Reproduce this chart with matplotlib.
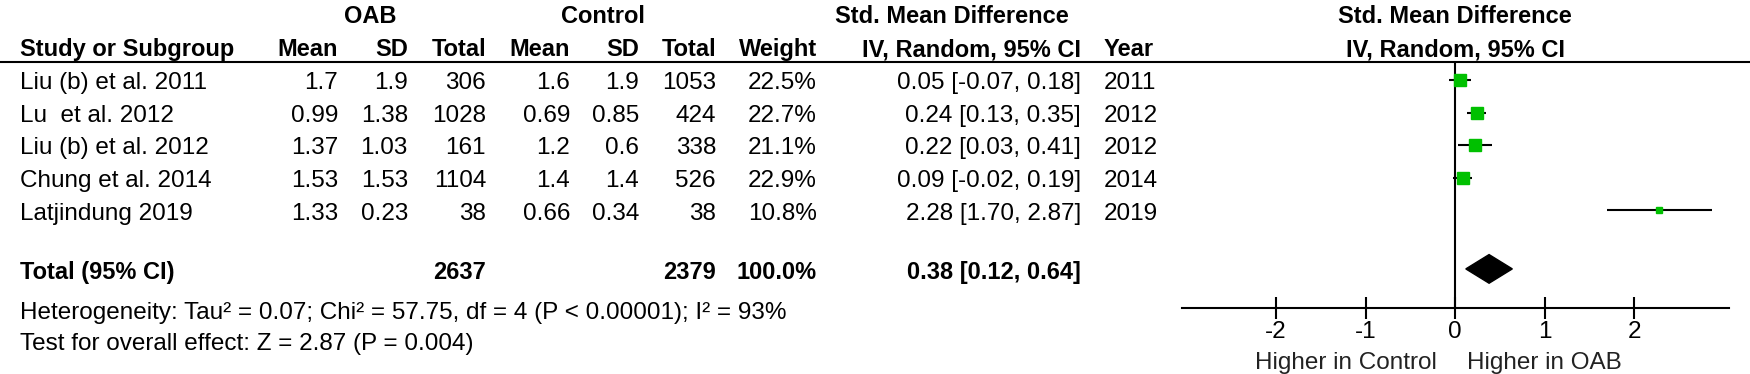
import matplotlib
matplotlib.use('Agg')
import matplotlib.pyplot as plt
from matplotlib.patches import Polygon

plt.rcParams['font.family'] = ['Liberation Sans', 'DejaVu Sans']

studies = ['Liu (b) et al. 2011', 'Lu  et al. 2012', 'Liu (b) et al. 2012',
           'Chung et al. 2014', 'Latjindung 2019']
oab_mean = ['1.7', '0.99', '1.37', '1.53', '1.33']
oab_sd = ['1.9', '1.38', '1.03', '1.53', '0.23']
oab_n = [306, 1028, 161, 1104, 38]
ctl_mean = ['1.6', '0.69', '1.2', '1.4', '0.66']
ctl_sd = ['1.9', '0.85', '0.6', '1.4', '0.34']
ctl_n = [1053, 424, 338, 526, 38]
weight = [22.5, 22.7, 21.1, 22.9, 10.8]
smd = [0.05, 0.24, 0.22, 0.09, 2.28]
ci_lo = [-0.07, 0.13, 0.03, -0.02, 1.70]
ci_hi = [0.18, 0.35, 0.41, 0.19, 2.87]
year = [2011, 2012, 2012, 2014, 2019]

total_oab = 2637
total_ctl = 2379
total_smd = 0.38
total_lo = 0.12
total_hi = 0.64
het_text = 'Heterogeneity: Tau² = 0.07; Chi² = 57.75, df = 4 (P < 0.00001); I² = 93%'
effect_text = 'Test for overall effect: Z = 2.87 (P = 0.004)'
ticks = [-2, -1, 0, 1, 2]

W, H = 1750, 374
FS = 17.5
FSB = 17
LW = 1.5

fig = plt.figure(figsize=(W / 100, H / 100), dpi=100)

# table axes, x in pixels, y in row units
ax_t = fig.add_axes([0, 0, 1, 1])
ax_t.set_xlim(0, W)
ax_t.set_ylim(9.026, -2.453)
ax_t.axis('off')

col_right = {'om': 338, 'osd': 408, 'on': 486, 'cm': 570, 'csd': 639,
             'cn': 716, 'w': 817, 'ci': 1081}
x_study = 20
x_year = 1104
dy = 0.1  # text sits a bit lower than the marks


def txt(x, y, s, ha='right', bold=False):
    ax_t.text(x, y + dy, s, ha=ha, va='center',
              fontsize=FSB if bold else FS,
              fontweight='bold' if bold else 'normal', color='black')


# headers
hy1, hy2 = -2.05, -1.02
txt(370, hy1, 'OAB', ha='center', bold=True)
txt(603, hy1, 'Control', ha='center', bold=True)
txt(952, hy1, 'Std. Mean Difference', ha='center', bold=True)
txt(x_study, hy2, 'Study or Subgroup', ha='left', bold=True)
txt(col_right['om'], hy2, 'Mean', bold=True)
txt(col_right['osd'], hy2, 'SD', bold=True)
txt(col_right['on'], hy2, 'Total', bold=True)
txt(col_right['cm'], hy2, 'Mean', bold=True)
txt(col_right['csd'], hy2, 'SD', bold=True)
txt(col_right['cn'], hy2, 'Total', bold=True)
txt(col_right['w'], hy2, 'Weight', bold=True)
txt(col_right['ci'], hy2, 'IV, Random, 95% CI', bold=True)
txt(x_year, hy2, 'Year', ha='left', bold=True)
ax_t.plot([0, W], [-0.55, -0.55], color='black', lw=LW, solid_capstyle='butt')

# study rows
for i in range(len(studies)):
    txt(x_study, i, studies[i], ha='left')
    txt(col_right['om'], i, oab_mean[i])
    txt(col_right['osd'], i, oab_sd[i])
    txt(col_right['on'], i, str(oab_n[i]))
    txt(col_right['cm'], i, ctl_mean[i])
    txt(col_right['csd'], i, ctl_sd[i])
    txt(col_right['cn'], i, str(ctl_n[i]))
    txt(col_right['w'], i, f'{weight[i]:.1f}%')
    txt(col_right['ci'], i, f'{smd[i]:.2f} [{ci_lo[i]:.2f}, {ci_hi[i]:.2f}]')
    txt(x_year, i, str(year[i]), ha='left')

# total row
ty = 5.8
txt(x_study, ty, 'Total (95% CI)', ha='left', bold=True)
txt(col_right['on'], ty, str(total_oab), bold=True)
txt(col_right['cn'], ty, str(total_ctl), bold=True)
txt(col_right['w'], ty, f'{sum(weight):.1f}%', bold=True)
txt(col_right['ci'], ty, f'{total_smd:.2f} [{total_lo:.2f}, {total_hi:.2f}]', bold=True)
txt(x_study, 7.05, het_text, ha='left')
txt(x_study, 8.0, effect_text, ha='left')

txt(1455, hy1, 'Std. Mean Difference', ha='center', bold=True)
txt(1455, hy2, 'IV, Random, 95% CI', ha='center', bold=True)

# forest plot axes
x0, x1 = 1182, 1729
y_top, y_bot = 62, 308
ax_f = fig.add_axes([x0 / W, 1 - y_bot / H, (x1 - x0) / W, (y_bot - y_top) / H])
ax_f.set_xlim(-3.05, 3.06)
ax_f.set_ylim(7.0, -0.55)
ax_f.patch.set_alpha(0)
for s in ['top', 'left', 'right']:
    ax_f.spines[s].set_visible(False)
ax_f.spines['bottom'].set_linewidth(LW)
ax_f.set_yticks([])
ax_f.set_xticks(ticks)
ax_f.set_xticklabels([str(t) for t in ticks])
ax_f.tick_params(axis='x', direction='inout', length=16, width=LW,
                 labelsize=FS, pad=1)
ax_f.axvline(0, color='black', lw=LW)

for i in range(len(studies)):
    ax_f.plot([ci_lo[i], ci_hi[i]], [i, i], color='black', lw=LW,
              solid_capstyle='butt', zorder=2)
    side = 12 * (weight[i] / 22.7) ** 0.8
    ax_f.plot(smd[i], i, marker='s', ms=side * 0.75, color='#00c000',
              mec='#00c000', ls='none', zorder=3)

dh = 0.44
diamond = Polygon([(total_lo, ty), (total_smd, ty - dh), (total_hi, ty),
                   (total_smd, ty + dh)], closed=True, color='black', zorder=3)
ax_f.add_patch(diamond)

ax_f.text(-0.2, 8.7, 'Higher in Control', ha='right', va='center',
          fontsize=FS, color='#222222', clip_on=False)
ax_f.text(0.13, 8.7, 'Higher in OAB', ha='left', va='center',
          fontsize=FS, color='#222222', clip_on=False)

fig.savefig('out.png', dpi=100)
